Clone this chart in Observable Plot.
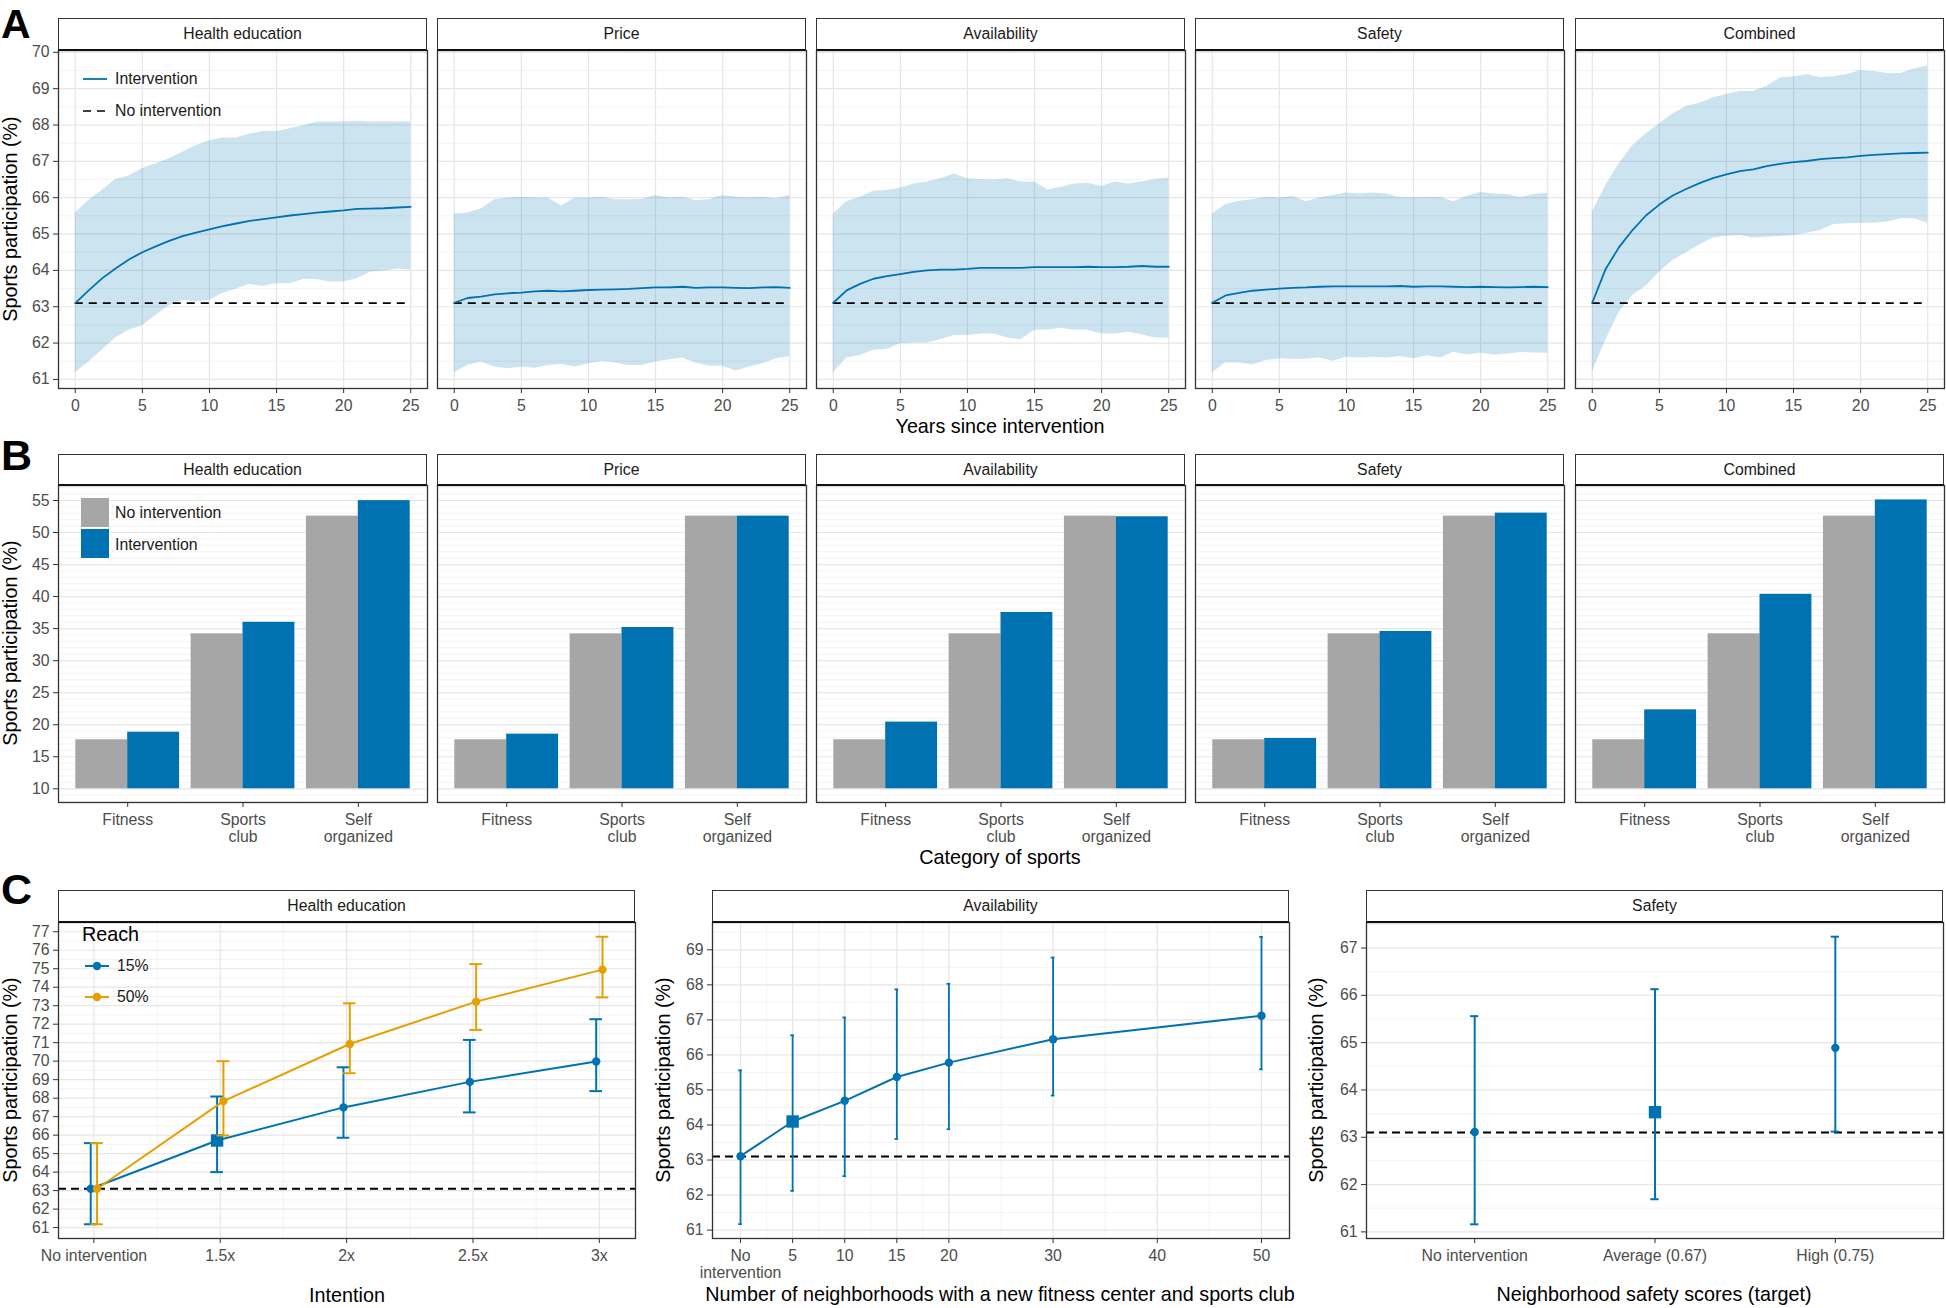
<!DOCTYPE html>
<html>
<head>
<meta charset="utf-8">
<script src="https://cdn.jsdelivr.net/npm/d3@7"></script>
<script src="https://cdn.jsdelivr.net/npm/@observablehq/plot@0.6"></script>
<style>
html,body{margin:0;padding:0;background:#fff;}
#root{position:relative;width:1946px;height:1308px;overflow:hidden;background:#fff;font-family:'Liberation Sans',Arial,Helvetica,sans-serif;}
.txt{position:absolute;white-space:nowrap;line-height:1;}
.strip{position:absolute;box-sizing:border-box;border:1.3px solid #333;border-bottom:2px solid #111;background:#fff;display:flex;align-items:center;justify-content:center;font-size:15.8px;color:#1a1a1a;}
</style>
</head>
<body>
<div id="root"></div>
<script>
// ---------------- DATA ----------------
const years = [0,1,2,3,4,5,6,7,8,9,10,11,12,13,14,15,16,17,18,19,20,21,22,23,24,25];
const baselineParticipation = 63.1;
const interventions = ["Health education","Price","Availability","Safety","Combined"];

// Panel A: mean and 95% band per intervention
const healthMean = [63.10,63.45,63.78,64.05,64.30,64.50,64.66,64.81,64.94,65.04,65.13,65.22,65.29,65.36,65.41,65.46,65.51,65.55,65.59,65.62,65.65,65.69,65.70,65.71,65.73,65.75];
const healthLow  = [61.18,61.48,61.80,62.14,62.35,62.48,62.76,63.03,63.17,63.14,63.17,63.37,63.49,63.61,63.56,63.63,63.63,63.75,63.75,63.68,63.68,63.77,63.95,63.98,64.04,64.01];
const healthHigh = [65.58,65.92,66.20,66.50,66.60,66.80,66.93,67.07,67.25,67.43,67.57,67.64,67.64,67.75,67.82,67.82,67.90,67.98,68.08,68.08,68.08,68.10,68.08,68.09,68.08,68.09];

const priceMean = [63.11,63.24,63.28,63.34,63.37,63.39,63.42,63.44,63.42,63.44,63.46,63.47,63.48,63.49,63.51,63.53,63.53,63.55,63.52,63.53,63.53,63.52,63.51,63.53,63.54,63.52];
const priceLow  = [61.18,61.38,61.48,61.34,61.29,61.34,61.31,61.38,61.41,61.34,61.43,61.49,61.45,61.38,61.38,61.48,61.54,61.59,61.45,61.37,61.36,61.23,61.34,61.43,61.57,61.63];
const priceHigh = [65.55,65.58,65.69,65.94,65.99,66.01,65.99,65.99,65.77,65.99,65.99,66.01,65.94,65.94,65.95,66.06,65.99,66.01,65.92,65.94,66.06,66.01,65.99,66.01,65.97,66.06];

const availMean = [63.11,63.45,63.63,63.77,63.84,63.90,63.96,64.00,64.02,64.02,64.04,64.07,64.07,64.07,64.07,64.09,64.09,64.09,64.09,64.10,64.09,64.09,64.10,64.12,64.10,64.10];
const availLow  = [61.18,61.59,61.66,61.80,61.82,61.98,62.00,62.00,62.09,62.21,62.21,62.25,62.25,62.14,62.09,62.35,62.36,62.41,62.35,62.35,62.25,62.25,62.30,62.23,62.14,62.14];
const availHigh = [65.55,65.89,66.01,66.18,66.20,66.26,66.38,66.43,66.52,66.65,66.52,66.50,66.49,66.52,66.43,66.43,66.21,66.29,66.38,66.40,66.31,66.43,66.38,66.43,66.50,66.54];

const safetyMean = [63.11,63.31,63.38,63.44,63.47,63.50,63.52,63.53,63.55,63.56,63.56,63.56,63.56,63.56,63.57,63.55,63.56,63.56,63.55,63.54,63.55,63.54,63.53,63.54,63.55,63.54];
const safetyLow  = [61.18,61.46,61.45,61.40,61.52,61.57,61.55,61.56,61.59,61.50,61.61,61.59,61.61,61.59,61.63,61.57,61.65,61.59,61.75,61.67,61.72,61.67,61.70,61.74,61.73,61.72];
const safetyHigh = [65.55,65.81,65.90,65.94,66.01,65.99,66.03,65.89,65.99,66.06,66.13,66.10,66.13,66.10,66.00,66.00,66.00,66.01,65.89,66.04,66.14,66.10,66.09,66.00,66.09,66.12];

const combinedMean = [63.11,64.04,64.64,65.11,65.51,65.81,66.06,66.24,66.40,66.54,66.64,66.73,66.78,66.87,66.93,66.98,67.01,67.06,67.09,67.11,67.15,67.18,67.20,67.22,67.23,67.24];
const combinedLow  = [61.20,62.07,62.85,63.31,63.56,63.95,64.27,64.48,64.70,64.89,64.94,64.96,64.89,64.91,64.93,64.96,65.02,65.10,65.26,65.28,65.30,65.30,65.33,65.42,65.42,65.30];
const combinedHigh = [65.60,66.33,66.93,67.43,67.75,68.03,68.30,68.51,68.60,68.74,68.84,68.92,68.92,69.06,69.29,69.33,69.38,69.31,69.33,69.39,69.50,69.47,69.42,69.42,69.54,69.63];

// Panel B: participation by category of sports
const sportCategories = ["Fitness","Sports club","Self organized"];
const sharesNoIntervention = [17.65,34.19,52.56];
const sharesHealth = [18.83,35.99,54.98];
const sharesPrice = [18.53,35.18,52.56];
const sharesAvailability = [20.41,37.52,52.46];
const sharesSafety = [17.86,34.56,53.03];
const sharesCombined = [22.32,40.36,55.09];

// Panel C: Health education (intention x reach)
const intentionLabels = ["No intervention","1.5x","2x","2.5x","3x"];
const intentionLevels = [1,1.5,2,2.5,3];
const currentIntention = "1.5x";
const reach15Mean = [63.10,65.71,67.50,68.88,69.98];
const reach15Low  = [61.18,64.00,65.86,67.23,68.38];
const reach15High = [65.57,68.09,69.67,71.15,72.27];
const reach50Mean = [63.10,67.84,70.93,73.22,74.95];
const reach50Low  = [61.18,65.98,69.35,71.69,73.45];
const reach50High = [65.57,70.00,73.13,75.25,76.73];

// Panel C: Availability
const neighborhoods = [0,5,10,15,20,30,50];
const currentNeighborhoods = 5;
const neighMean = [63.11,64.10,64.69,65.37,65.78,66.45,67.12];
const neighLow  = [61.17,62.12,62.54,63.60,63.88,64.84,65.59];
const neighHigh = [65.56,66.56,67.07,67.87,68.03,68.78,69.37];

// Panel C: Safety
const safetyTargets = ["No intervention","Average (0.67)","High (0.75)"];
const currentSafety = "Average (0.67)";
const targetMean = [63.11,63.53,64.89];
const targetLow  = [61.16,61.69,63.12];
const targetHigh = [65.56,66.13,67.24];

// ---------------- STYLE / LAYOUT ----------------
const BLUE = "#0072B2", ORANGE = "#E69F00", GREY = "#A6A6A6";
const FONT = "'Liberation Sans', Arial, Helvetica, sans-serif";
const AXIS_TXT = "#4d4d4d", AXIS_LINE = "#333333";
const COLS5 = [58, 437, 816, 1195, 1575], W5 = 369;
const COLS3 = [58, 712, 1366], W3 = 577;
const root = document.getElementById("root");

function addPlot(opts, left, top, ml, mt) {
  const svg = Plot.plot({
    ...opts, marginLeft: ml, marginTop: mt,
    style: {fontFamily: FONT, fontSize: "15.8px", color: AXIS_TXT, background: "transparent", overflow: "visible"}
  });
  svg.style.position = "absolute";
  svg.style.left = (left - ml) + "px";
  svg.style.top = (top - mt) + "px";
  root.appendChild(svg);
}
function addStrip(text, left, top, width, height) {
  const d = document.createElement("div");
  d.className = "strip";
  d.textContent = text;
  d.style.left = left + "px"; d.style.top = top + "px";
  d.style.width = width + "px"; d.style.height = (height + 1) + "px";
  root.appendChild(d);
}
function addText(str, x, y, o = {}) {
  const d = document.createElement("div");
  d.className = "txt";
  d.textContent = str;
  d.style.left = x + "px"; d.style.top = y + "px";
  d.style.fontSize = (o.size || 15.8) + "px";
  d.style.color = o.color || "#000";
  if (o.weight) d.style.fontWeight = o.weight;
  if (o.lineHeight) d.style.lineHeight = o.lineHeight;
  const ax = o.anchor === "start" ? "0" : o.anchor === "end" ? "-100%" : "-50%";
  d.style.transform = `translate(${ax},-50%)` + (o.rotate ? ` rotate(${o.rotate}deg)` : "");
  root.appendChild(d);
}
function addSvg(inner, left, top, w, h) {
  const d = document.createElement("div");
  d.style.cssText = `position:absolute;left:${left}px;top:${top}px;width:${w}px;height:${h}px;`;
  d.innerHTML = `<svg xmlns="http://www.w3.org/2000/svg" width="${w}" height="${h}">${inner}</svg>`;
  root.appendChild(d);
}
function grid({yMajor = [], yMinor = [], xMajor = [], xMinor = []}) {
  return [
    Plot.ruleY(yMinor, {stroke: "#eeeeee", strokeWidth: 0.7}),
    Plot.ruleX(xMinor, {stroke: "#eeeeee", strokeWidth: 0.7}),
    Plot.ruleY(yMajor, {stroke: "#e6e6e6", strokeWidth: 1.2}),
    Plot.ruleX(xMajor, {stroke: "#e6e6e6", strokeWidth: 1.2})
  ];
}
const frame = () => Plot.frame({stroke: AXIS_LINE, strokeWidth: 1.3});
const yAxis = (ticks, fmt) => Plot.axisY({ticks, tickSize: 5, tickPadding: 4, stroke: AXIS_LINE, fill: AXIS_TXT, label: null, tickFormat: fmt || (d => d)});
const xAxis = (ticks, fmt, lh) => Plot.axisX({ticks, tickSize: 5, tickPadding: 5, stroke: AXIS_LINE, fill: AXIS_TXT, label: null, tickFormat: fmt || (d => d), lineHeight: lh || 1.1});
const range = (a, b, s) => d3.range(a, b + 1e-9, s);

// ---------------- PANEL A ----------------
const seriesA = [
  {mean: healthMean, low: healthLow, high: healthHigh},
  {mean: priceMean, low: priceLow, high: priceHigh},
  {mean: availMean, low: availLow, high: availHigh},
  {mean: safetyMean, low: safetyLow, high: safetyHigh},
  {mean: combinedMean, low: combinedLow, high: combinedHigh}
];
interventions.forEach((name, i) => {
  const s = seriesA[i];
  const rows = years.map((t, k) => ({t, mean: s.mean[k], lo: s.low[k], hi: s.high[k]}));
  const L = COLS5[i], T = 50, H = 338, first = i === 0;
  const ml = 64, mr = 6, mt = 6, mb = 40;
  const yTicks = range(61, 70, 1);
  addPlot({
    width: W5 + ml + mr, height: H + mt + mb, marginRight: mr, marginBottom: mb,
    x: {domain: [-1.25, 26.25], label: null},
    y: {domain: [60.75, 70.05], label: null, axis: first ? undefined : null},
    marks: [
      ...grid({yMajor: yTicks, yMinor: range(61.5, 69.5, 1), xMajor: [0,5,10,15,20,25]}),
      Plot.areaY(rows, {x: "t", y1: "lo", y2: "hi", fill: BLUE, fillOpacity: 0.2}),
      Plot.ruleY([baselineParticipation], {x1: 0, x2: 25, stroke: "#000", strokeWidth: 1.6, strokeDasharray: "8,6"}),
      Plot.lineY(rows, {x: "t", y: "mean", stroke: BLUE, strokeWidth: 1.8}),
      frame(),
      xAxis([0,5,10,15,20,25]),
      ...(first ? [yAxis(yTicks)] : [])
    ]
  }, L, T, ml, mt);
  addStrip(name, L, 18, W5, 32);
});
// legend A
addSvg(`<line x1="83" y1="79" x2="107" y2="79" stroke="${BLUE}" stroke-width="1.8"/>
<line x1="83" y1="111" x2="107" y2="111" stroke="#000" stroke-width="1.6" stroke-dasharray="8,6"/>`, 0, 0, 120, 130);
addText("Intervention", 115, 79, {anchor: "start", color: "#1a1a1a"});
addText("No intervention", 115, 111, {anchor: "start", color: "#1a1a1a"});
addText("A", 1, 23.5, {anchor: "start", size: 41, weight: "bold"});
addText("Sports participation (%)", 11, 219, {size: 19.75, rotate: -90});
addText("Years since intervention", 1000, 427, {size: 19.75});

// ---------------- PANEL B ----------------
const sharesB = [sharesHealth, sharesPrice, sharesAvailability, sharesSafety, sharesCombined];
interventions.forEach((name, i) => {
  const base = sportCategories.map((c, k) => ({pos: k + 1, value: sharesNoIntervention[k]}));
  const inter = sportCategories.map((c, k) => ({pos: k + 1, value: sharesB[i][k]}));
  const L = COLS5[i], T = 485, H = 317, first = i === 0;
  const ml = 64, mr = 6, mt = 6, mb = 60;
  const yTicks = range(10, 55, 5);
  addPlot({
    width: W5 + ml + mr, height: H + mt + mb, marginRight: mr, marginBottom: mb,
    x: {domain: [0.4, 3.6], label: null},
    y: {domain: [7.86, 57.34], label: null, axis: first ? undefined : null},
    marks: [
      ...grid({yMajor: yTicks, yMinor: range(8, 57, 1).filter(v => v % 5 !== 0)}),
      Plot.rectY(base, {x1: d => d.pos - 0.45, x2: d => d.pos, y1: 10, y2: "value", fill: GREY}),
      Plot.rectY(inter, {x1: d => d.pos, x2: d => d.pos + 0.45, y1: 10, y2: "value", fill: BLUE}),
      frame(),
      xAxis([1,2,3], d => sportCategories[d - 1].replace(" ", "\n"), 1.08),
      ...(first ? [yAxis(yTicks)] : [])
    ]
  }, L, T, ml, mt);
  addStrip(name, L, 454, W5, 31);
});
addSvg(`<rect x="81" y="58" width="28" height="29" fill="${GREY}"/>
<rect x="81" y="89" width="28" height="29" fill="${BLUE}"/>`, 0, 440, 120, 130);
addText("No intervention", 115, 513, {anchor: "start", color: "#1a1a1a"});
addText("Intervention", 115, 545, {anchor: "start", color: "#1a1a1a"});
addText("B", 1, 455, {anchor: "start", size: 43, weight: "bold", lineHeight: 0.75});
addText("Sports participation (%)", 11, 643, {size: 19.75, rotate: -90});
addText("Category of sports", 1000, 858, {size: 19.75});

// ---------------- PANEL C ----------------
const CT = 922, CH = 316, cml = 64, cmr = 6, cmt = 6, cmb = 50;
function errorMarks(rows, color, cap, sw) {
  return [
    Plot.ruleX(rows, {x: "x", y1: "lo", y2: "hi", stroke: color, strokeWidth: sw}),
    Plot.ruleY(rows, {y: "lo", x1: d => d.x - cap, x2: d => d.x + cap, stroke: color, strokeWidth: sw}),
    Plot.ruleY(rows, {y: "hi", x1: d => d.x - cap, x2: d => d.x + cap, stroke: color, strokeWidth: sw})
  ];
}
function pointMarks(rows, color) {
  return [
    Plot.dot(rows.filter(d => !d.current), {x: "x", y: "mean", r: 4.2, fill: color, stroke: "none"}),
    Plot.dot(rows.filter(d => d.current), {x: "x", y: "mean", r: 7, symbol: "square", fill: color, stroke: "none"})
  ];
}
const dashed = () => Plot.ruleY([baselineParticipation], {stroke: "#000", strokeWidth: 2, strokeDasharray: "8,5"});

// C1: Health education
{
  const dodge = 0.0125, cap = 0.025;
  const r15 = intentionLevels.map((x, k) => ({x: x - dodge, mean: reach15Mean[k], lo: reach15Low[k], hi: reach15High[k], current: intentionLabels[k] === currentIntention}));
  const r50 = intentionLevels.map((x, k) => ({x: x + dodge, mean: reach50Mean[k], lo: reach50Low[k], hi: reach50High[k], current: false}));
  const yTicks = range(61, 77, 1);
  addPlot({
    width: W3 + cml + cmr, height: CH + cmt + cmb, marginRight: cmr, marginBottom: cmb,
    x: {domain: [0.86, 3.143], label: null}, y: {domain: [60.41, 77.5], label: null},
    marks: [
      ...grid({yMajor: yTicks, yMinor: range(61.5, 76.5, 1), xMajor: intentionLevels, xMinor: [1.25, 1.75, 2.25, 2.75]}),
      dashed(),
      Plot.line(r15, {x: "x", y: "mean", stroke: BLUE, strokeWidth: 2}),
      ...errorMarks(r15, BLUE, cap, 2),
      ...pointMarks(r15, BLUE),
      Plot.line(r50, {x: "x", y: "mean", stroke: ORANGE, strokeWidth: 2}),
      ...errorMarks(r50, ORANGE, cap, 2),
      ...pointMarks(r50, ORANGE),
      frame(),
      xAxis(intentionLevels, d => intentionLabels[intentionLevels.indexOf(d)]),
      yAxis(yTicks)
    ]
  }, COLS3[0], CT, cml, cmt);
  addStrip("Health education", COLS3[0], 890, W3, 32);
  addSvg(`<line x1="85" y1="96" x2="109" y2="96" stroke="${BLUE}" stroke-width="2"/><circle cx="97" cy="96" r="4.2" fill="${BLUE}"/>
<line x1="85" y1="127" x2="109" y2="127" stroke="${ORANGE}" stroke-width="2"/><circle cx="97" cy="127" r="4.2" fill="${ORANGE}"/>`, 0, 870, 120, 140);
  addText("Reach", 82, 935, {anchor: "start", size: 19.75});
  addText("15%", 117, 966, {anchor: "start", color: "#1a1a1a"});
  addText("50%", 117, 997, {anchor: "start", color: "#1a1a1a"});
}
// C2: Availability
{
  const cap = 0.175;
  const rows = neighborhoods.map((x, k) => ({x, mean: neighMean[k], lo: neighLow[k], hi: neighHigh[k], current: x === currentNeighborhoods}));
  const yTicks = range(61, 69, 1);
  const xTicks = [0, 5, 10, 15, 20, 30, 40, 50];
  addPlot({
    width: W3 + cml + cmr, height: CH + cmt + cmb, marginRight: cmr, marginBottom: cmb,
    x: {domain: [-2.69, 52.69], label: null}, y: {domain: [60.76, 69.78], label: null},
    marks: [
      ...grid({yMajor: yTicks, yMinor: range(61.5, 69.5, 1), xMajor: xTicks, xMinor: [2.5, 7.5, 12.5, 17.5, 25, 35, 45]}),
      dashed(),
      Plot.line(rows, {x: "x", y: "mean", stroke: BLUE, strokeWidth: 2}),
      ...errorMarks(rows, BLUE, cap, 1.8),
      ...pointMarks(rows, BLUE),
      frame(),
      xAxis(xTicks, d => d === 0 ? "No\nintervention" : String(d), 1.1),
      yAxis(yTicks)
    ]
  }, COLS3[1], CT, cml, cmt);
  addStrip("Availability", COLS3[1], 890, W3, 32);
}
// C3: Safety
{
  const cap = 0.023;
  const rows = safetyTargets.map((lab, k) => ({x: k + 1, mean: targetMean[k], lo: targetLow[k], hi: targetHigh[k], current: lab === currentSafety}));
  const yTicks = range(61, 67, 1);
  addPlot({
    width: W3 + cml + cmr, height: CH + cmt + cmb, marginRight: cmr, marginBottom: cmb,
    x: {domain: [0.4, 3.6], label: null}, y: {domain: [60.86, 67.54], label: null},
    marks: [
      ...grid({yMajor: yTicks, yMinor: range(61.5, 67.5, 1)}),
      dashed(),
      ...errorMarks(rows, BLUE, cap, 2),
      ...pointMarks(rows, BLUE),
      frame(),
      xAxis([1, 2, 3], d => safetyTargets[d - 1]),
      yAxis(yTicks)
    ]
  }, COLS3[2], CT, cml, cmt);
  addStrip("Safety", COLS3[2], 890, W3, 32);
}
addText("C", 1, 889, {anchor: "start", size: 43, weight: "bold", lineHeight: 0.75});
addText("Sports participation (%)", 11, 1080, {size: 19.75, rotate: -90});
addText("Sports participation (%)", 664, 1080, {size: 19.75, rotate: -90});
addText("Sports participation (%)", 1317, 1080, {size: 19.75, rotate: -90});
addText("Intention", 347, 1296, {size: 19.75});
addText("Number of neighborhoods with a new fitness center and sports club", 1000, 1295, {size: 19.75});
addText("Neighborhood safety scores (target)", 1654, 1295, {size: 19.75});
</script>
</body>
</html>
